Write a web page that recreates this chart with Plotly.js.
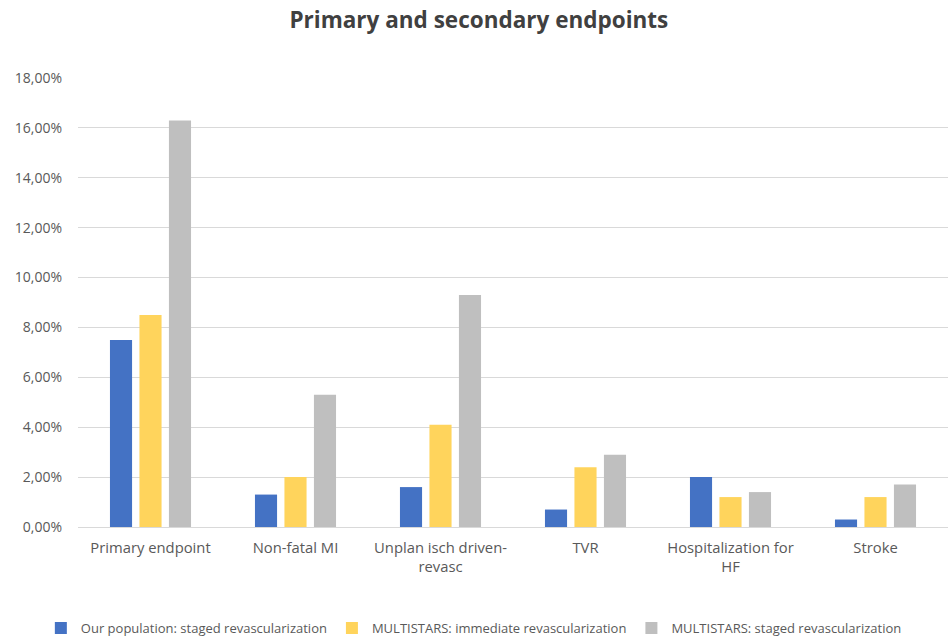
<!DOCTYPE html>
<html>
<head>
<meta charset="utf-8">
<script src="https://cdn.plot.ly/plotly-3.0.1.min.js"></script>
<style>html,body{margin:0;padding:0;background:#fff;}#chart{width:952px;height:638px;}</style>
</head>
<body>
<div id="chart"></div>
<script>
const categories = ["Primary endpoint", "Non-fatal MI", "Unplan isch driven-<br>revasc", "TVR", "Hospitalization for<br>HF", "Stroke"];
const seriesNames = ["Our population: staged revascularization", "MULTISTARS: immediate revascularization", "MULTISTARS: staged revascularization"];
const ourStaged = [7.5, 1.3, 1.6, 0.7, 2.0, 0.3];
const multiImmediate = [8.5, 2.0, 4.1, 2.4, 1.2, 1.2];
const multiStaged = [16.3, 5.3, 9.3, 2.9, 1.4, 1.7];
const colors = ["#4472C4", "#FFD45C", "#BFBFBF"];
const tickVals = [0, 2, 4, 6, 8, 10, 12, 14, 16, 18];
const tickText = tickVals.map(v => v.toFixed(2).replace(".", ",") + "%");

const values = [ourStaged, multiImmediate, multiStaged];
const traces = values.map((v, i) => ({
  type: "bar",
  x: categories,
  y: v,
  name: seriesNames[i],
  marker: {color: colors[i]},
  hoverinfo: "skip"
}));

const layout = {
  width: 952, height: 638,
  margin: {l: 78, r: 4, t: 78, b: 111, autoexpand: false},
  paper_bgcolor: "#fff", plot_bgcolor: "#fff",
  font: {family: "Open Sans, Lato, sans-serif", color: "#595959", size: 12},
  title: {text: "<b>Primary and secondary endpoints</b>", x: 0.503, xanchor: "center", y: 0.968, yanchor: "middle",
          font: {size: 22.5, color: "#404040", family: "Open Sans, sans-serif"}},
  barmode: "group",
  bargap: 0.39,
  bargroupgap: 0.25,
  xaxis: {showgrid: false, showline: false, ticks: "", ticklabelstandoff: 10, tickfont: {size: 14.8, color: "#595959"}},
  yaxis: {range: [0, 18], tickvals: tickVals, ticktext: tickText,
          gridcolor: "#D9D9D9", gridwidth: 1, zeroline: true, zerolinecolor: "#D9D9D9",
          showline: false, ticks: "", tickfont: {size: 14, color: "#595959"}, ticklabelstandoff: 15, fixedrange: true},
  showlegend: true,
  legend: {orientation: "h", x: 0.455, xanchor: "center", y: -0.225, yanchor: "middle",
           font: {size: 13, color: "#595959"}, itemwidth: 30, tracegroupgap: 0}
};

Plotly.newPlot("chart", traces, layout, {displayModeBar: false, staticPlot: true});
</script>
</body>
</html>
